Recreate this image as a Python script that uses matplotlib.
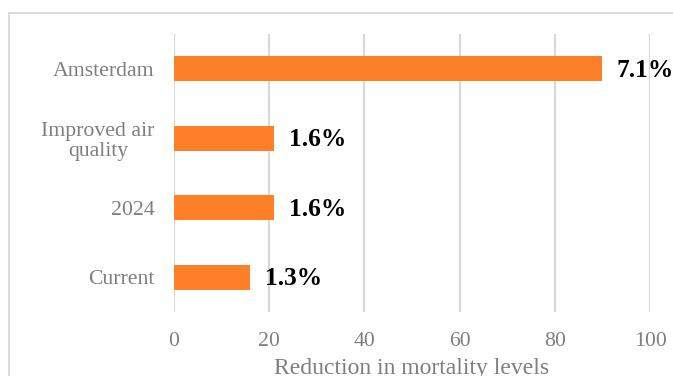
import matplotlib
matplotlib.use("Agg")
import matplotlib.pyplot as plt
from matplotlib.patches import Rectangle

# Scenarios (bottom to top) and their values
categories = ["Current", "2024", "Improved air\nquality", "Amsterdam"]
reduction = [16, 21, 21, 90]
pct_labels = ["1.3%", "1.6%", "1.6%", "7.1%"]
xticks = [0, 20, 40, 60, 80, 100]

BAR = "#FD7F28"
GRID = "#D9D9D9"
TXT = "#7F7F7F"
SERIF = ["Liberation Serif", "DejaVu Serif"]

fig = plt.figure(figsize=(6.73, 3.76), dpi=100)
fig.patch.set_facecolor("white")

# Outer chart-area border (runs past the right and bottom edges)
top = 1 - 12.5 / 376
fig.add_artist(Rectangle((9 / 673, -0.2), 1.2, top + 0.2,
                         transform=fig.transFigure, fill=False,
                         edgecolor=GRID, linewidth=1.3))

ax = fig.add_axes([174 / 673, 64 / 376, 476 / 673, 278 / 376])
y = range(len(categories))
ax.barh(y, reduction, height=0.36, color=BAR, zorder=3)

ax.set_xlim(0, 100)
ax.set_ylim(-0.5, len(categories) - 0.5)
ax.set_xticks(xticks)
ax.set_xticklabels([str(t) for t in xticks])
ax.set_yticks(list(y))
ax.set_yticklabels(categories, linespacing=1.12, multialignment="center")

for s in ax.spines.values():
    s.set_visible(False)
ax.grid(axis="x", color=GRID, linewidth=1.6, zorder=0)
ax.tick_params(axis="both", length=0, labelcolor=TXT, labelsize=15.7)
ax.tick_params(axis="x", pad=14.5)
ax.tick_params(axis="y", pad=14)
for lab in ax.get_xticklabels() + ax.get_yticklabels():
    lab.set_family(SERIF)

ax.set_xlabel("Reduction in mortality levels", family=SERIF, color=TXT,
              fontsize=17)
ax.xaxis.set_label_coords(0.5, -0.164)

for yi, v, lab in zip(y, reduction, pct_labels):
    ax.annotate(lab, (v, yi), xytext=(10.5, -1), textcoords="offset points",
                ha="left", va="center", fontsize=18.3, fontweight="bold",
                family=SERIF, color="black", annotation_clip=False)

fig.savefig("out.png", dpi=100, facecolor="white")
